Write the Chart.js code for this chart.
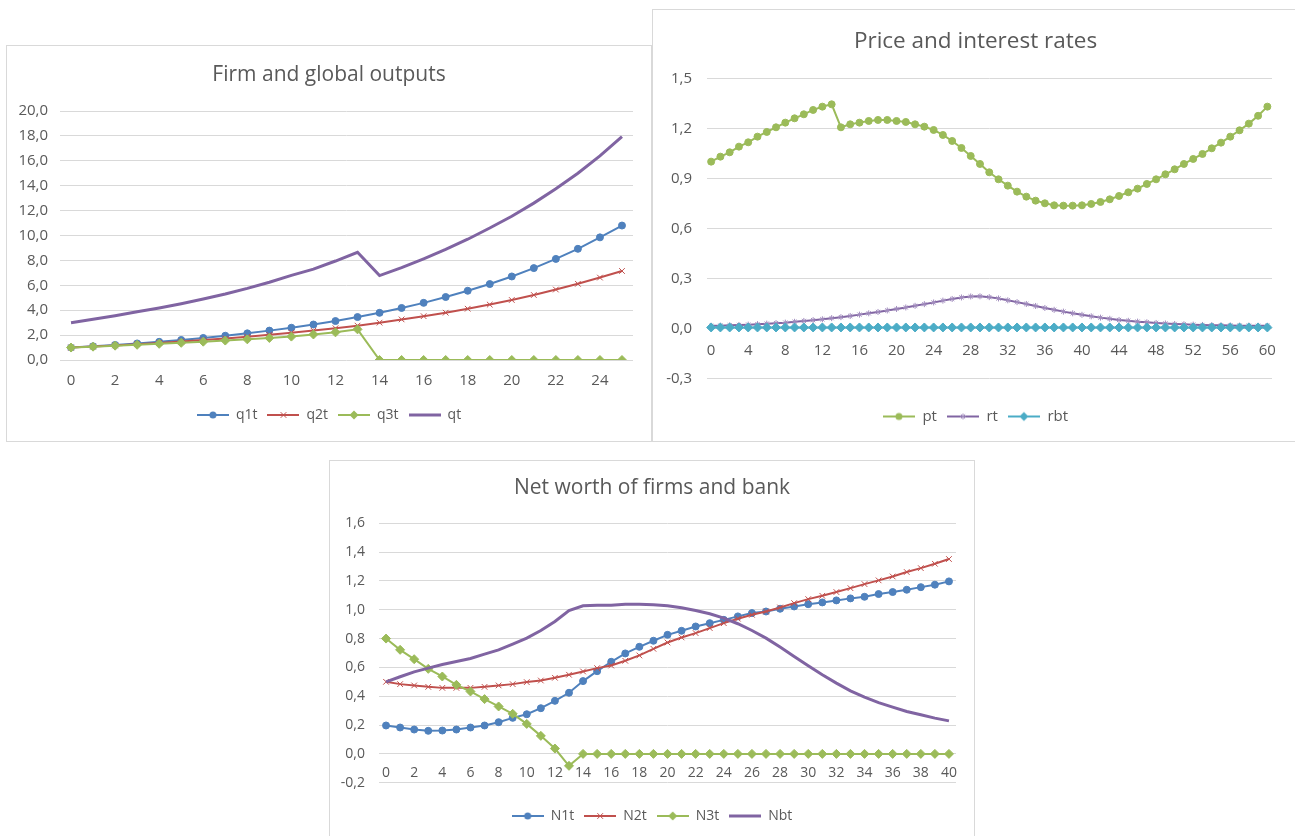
<!DOCTYPE html>
<html>
<head>
<meta charset="utf-8">
<title>Firm outputs, prices and net worth</title>
<script src="https://cdn.jsdelivr.net/npm/chart.js@4.4.1/dist/chart.umd.min.js"></script>
<style>
  html, body { margin: 0; padding: 0; background: #fff; width: 1295px; height: 836px; overflow: hidden; }
  .panel { position: absolute; border: 1px solid #D9D9D9; background: #fff; }
  .panel canvas { display: block; }
</style>
</head>
<body>
<div class="panel" style="left:6px; top:45px;"><canvas id="outputsChart" width="644" height="395"></canvas></div>
<div class="panel" style="left:652px; top:9px;"><canvas id="pricesChart" width="645" height="431"></canvas></div>
<div class="panel" style="left:329px; top:460px;"><canvas id="worthChart" width="644" height="380"></canvas></div>

<script>
// ---- Firm and global outputs ----
const outputPeriods = [0, 1, 2, 3, 4, 5, 6, 7, 8, 9, 10, 11, 12, 13, 14, 15, 16, 17, 18, 19, 20, 21, 22, 23, 24, 25];
const q1t = [1.00, 1.10, 1.21, 1.33, 1.46, 1.61, 1.77, 1.95, 2.14, 2.36, 2.59, 2.85, 3.13, 3.45, 3.79, 4.18, 4.59, 5.06, 5.56, 6.10, 6.71, 7.38, 8.12, 8.93, 9.85, 10.80];
const q2t = [1.00, 1.08, 1.17, 1.27, 1.37, 1.48, 1.60, 1.73, 1.87, 2.02, 2.19, 2.36, 2.55, 2.76, 3.00, 3.26, 3.52, 3.80, 4.12, 4.45, 4.82, 5.22, 5.66, 6.12, 6.62, 7.15];
const q3t = [1.00, 1.07, 1.15, 1.22, 1.30, 1.38, 1.47, 1.56, 1.66, 1.77, 1.88, 2.05, 2.22, 2.46, 0, 0, 0, 0, 0, 0, 0, 0, 0, 0, 0, 0];
const qt  = [3.00, 3.27, 3.56, 3.87, 4.18, 4.52, 4.90, 5.30, 5.75, 6.25, 6.80, 7.30, 7.95, 8.65, 6.78, 7.42, 8.13, 8.88, 9.70, 10.60, 11.55, 12.60, 13.75, 15.00, 16.40, 17.95];

// ---- Price and interest rates ----
const pricePeriods = [0, 1, 2, 3, 4, 5, 6, 7, 8, 9, 10, 11, 12, 13, 14, 15, 16, 17, 18, 19, 20,
  21, 22, 23, 24, 25, 26, 27, 28, 29, 30, 31, 32, 33, 34, 35, 36, 37, 38, 39, 40,
  41, 42, 43, 44, 45, 46, 47, 48, 49, 50, 51, 52, 53, 54, 55, 56, 57, 58, 59, 60];
const pt = [1.000, 1.030, 1.056, 1.090, 1.116, 1.150, 1.178, 1.206, 1.234, 1.260, 1.284,
  1.310, 1.330, 1.344, 1.206, 1.224, 1.234, 1.244, 1.250, 1.250, 1.244,
  1.238, 1.224, 1.210, 1.190, 1.160, 1.124, 1.082, 1.034, 0.986, 0.936,
  0.894, 0.856, 0.820, 0.790, 0.766, 0.750, 0.738, 0.736, 0.736, 0.738,
  0.746, 0.758, 0.774, 0.794, 0.816, 0.838, 0.866, 0.894, 0.924, 0.954,
  0.986, 1.016, 1.046, 1.080, 1.114, 1.150, 1.188, 1.228, 1.275, 1.330];
const rt = [0.015, 0.016, 0.018, 0.020, 0.022, 0.025, 0.028, 0.031, 0.034, 0.039, 0.044,
  0.049, 0.054, 0.061, 0.067, 0.074, 0.082, 0.090, 0.098, 0.107, 0.116,
  0.125, 0.135, 0.145, 0.155, 0.166, 0.176, 0.185, 0.191, 0.192, 0.187,
  0.179, 0.168, 0.157, 0.146, 0.134, 0.122, 0.111, 0.100, 0.090, 0.081,
  0.072, 0.064, 0.057, 0.050, 0.045, 0.040, 0.036, 0.032, 0.029, 0.026,
  0.024, 0.022, 0.020, 0.019, 0.018, 0.017, 0.016, 0.016, 0.015, 0.015];
const rbt = [0.005, 0.005, 0.005, 0.005, 0.005, 0.005, 0.005, 0.005, 0.005, 0.005, 0.005,
  0.005, 0.005, 0.005, 0.005, 0.005, 0.005, 0.005, 0.005, 0.005, 0.005,
  0.005, 0.005, 0.005, 0.005, 0.005, 0.005, 0.005, 0.005, 0.005, 0.005,
  0.005, 0.005, 0.005, 0.005, 0.005, 0.005, 0.005, 0.005, 0.005, 0.005,
  0.005, 0.005, 0.005, 0.005, 0.005, 0.005, 0.005, 0.005, 0.005, 0.005,
  0.005, 0.005, 0.005, 0.005, 0.005, 0.005, 0.005, 0.005, 0.005, 0.005];

// ---- Net worth of firms and bank ----
const worthPeriods = [0, 1, 2, 3, 4, 5, 6, 7, 8, 9, 10, 11, 12, 13, 14, 15, 16, 17, 18, 19, 20,
  21, 22, 23, 24, 25, 26, 27, 28, 29, 30, 31, 32, 33, 34, 35, 36, 37, 38, 39, 40];
const N1t = [0.197, 0.183, 0.169, 0.160, 0.162, 0.169, 0.183, 0.197, 0.220, 0.250, 0.275,
  0.317, 0.368, 0.424, 0.505, 0.574, 0.639, 0.697, 0.743, 0.785, 0.826,
  0.854, 0.884, 0.907, 0.930, 0.954, 0.977, 0.988, 1.007, 1.023, 1.039,
  1.051, 1.065, 1.079, 1.090, 1.109, 1.123, 1.139, 1.157, 1.174, 1.197];
const N2t = [0.500, 0.484, 0.475, 0.465, 0.458, 0.458, 0.458, 0.465, 0.475, 0.484, 0.498,
  0.509, 0.528, 0.549, 0.572, 0.595, 0.613, 0.646, 0.683, 0.729, 0.773,
  0.808, 0.838, 0.873, 0.907, 0.938, 0.965, 0.988, 1.016, 1.046, 1.074,
  1.097, 1.123, 1.150, 1.178, 1.204, 1.231, 1.262, 1.289, 1.319, 1.352];
const N3t = [0.800, 0.722, 0.657, 0.590, 0.537, 0.479, 0.433, 0.380, 0.329, 0.278, 0.208,
  0.125, 0.037, -0.083, 0, 0, 0, 0, 0, 0, 0,
  0, 0, 0, 0, 0, 0, 0, 0, 0, 0,
  0, 0, 0, 0, 0, 0, 0, 0, 0, 0];
const Nbt = [0.500, 0.535, 0.569, 0.595, 0.620, 0.641, 0.662, 0.692, 0.722, 0.762, 0.803,
  0.856, 0.919, 0.995, 1.028, 1.032, 1.032, 1.039, 1.039, 1.035, 1.028,
  1.014, 0.995, 0.972, 0.942, 0.903, 0.856, 0.803, 0.741, 0.676, 0.611,
  0.549, 0.491, 0.437, 0.394, 0.356, 0.324, 0.294, 0.271, 0.248, 0.229];

// ---- styling ----
const TEXT = '#595959';
const GRID = '#D9D9D9';
const BLUE = '#4F81BD', RED = '#C0504D', GREEN = '#9BBB59', PURPLE = '#8064A2', AQUA = '#4BACC6';

Chart.defaults.font.family = "'Open Sans', sans-serif";
Chart.defaults.color = TEXT;

// Marker shapes used for the legend swatches (line with the marker in its middle)
function drawMarker(g, style, x, y, r, color) {
  g.fillStyle = color;
  g.strokeStyle = color;
  g.lineWidth = 1;
  g.beginPath();
  if (style === 'circle') {
    g.arc(x, y, r, 0, Math.PI * 2);
    g.fill();
  } else if (style === 'rectRot') {
    g.moveTo(x - r, y); g.lineTo(x, y - r); g.lineTo(x + r, y); g.lineTo(x, y + r);
    g.closePath();
    g.fill();
  } else if (style === 'crossRot' || style === 'star') {
    const d = r * Math.SQRT1_2;
    g.moveTo(x - d, y - d); g.lineTo(x + d, y + d);
    g.moveTo(x + d, y - d); g.lineTo(x - d, y + d);
    if (style === 'star') {
      g.moveTo(x - r, y); g.lineTo(x + r, y);
      g.moveTo(x, y - r); g.lineTo(x, y + r);
    }
    g.stroke();
  }
}

function legendSwatch(color, style, radius, lineWidth, markerColor) {
  const c = document.createElement('canvas');
  c.width = 32;
  c.height = 12;
  const g = c.getContext('2d');
  g.strokeStyle = color;
  g.lineWidth = lineWidth;
  g.beginPath();
  g.moveTo(0, 6);
  g.lineTo(32, 6);
  g.stroke();
  if (style) drawMarker(g, style, 16, 6, radius, markerColor || color);
  return c;
}

function series(label, data, color, style, radius, width, markerColor) {
  const mc = markerColor || color;
  return {
    label: label,
    data: data,
    borderColor: color,
    backgroundColor: color,
    borderWidth: width,
    pointStyle: style || false,
    pointRadius: style ? radius : 0,
    pointHoverRadius: style ? radius : 0,
    pointBackgroundColor: mc,
    pointBorderColor: mc,
    pointBorderWidth: 1,
    tension: 0,
    swatch: legendSwatch(color, style, radius, width, mc)
  };
}

function decimalComma(v) {
  const x = Math.abs(v) < 1e-9 ? 0 : v;
  return x.toFixed(1).replace('.', ',');
}

// Empty scale that only reserves room (right margin, gap above the legend)
function spacer(type, position, size) {
  return {
    type: type,
    position: position,
    display: true,
    grid: { display: false, drawTicks: false },
    border: { display: false },
    ticks: { display: false },
    afterFit: (scale) => {
      if (position === 'right') scale.width = size; else scale.height = size;
    }
  };
}

function makeChart(id, spec) {
  spec.datasets.forEach((ds, i) => { ds.order = spec.datasets.length - i; });
  const scales = {
    x: {
      type: 'category',
      position: spec.xAtZero ? { y: 0 } : 'bottom',
      offset: true,
      grid: { display: false, drawTicks: false },
      border: { display: false },
      ticks: {
        autoSkip: false,
        maxRotation: 0,
        minRotation: 0,
        padding: spec.xPad,
        color: TEXT,
        font: { size: spec.tickSize },
        callback: function (v, i) { return i % spec.labelEvery === 0 ? this.getLabelForValue(v) : ''; }
      },
      afterFit: (scale) => { if (!spec.xAtZero) scale.height = spec.xHeight; }
    },
    y: {
      type: 'linear',
      position: 'left',
      min: spec.yMin,
      max: spec.yMax,
      ticks: {
        stepSize: spec.yStep,
        padding: spec.yPad,
        color: TEXT,
        font: { size: spec.tickSize },
        callback: decimalComma
      },
      grid: { color: GRID, lineWidth: 1, drawTicks: false },
      border: { display: false },
      afterFit: (scale) => { scale.width = spec.yWidth; }
    },
    rightMargin: spacer('linear', 'right', spec.rightGap)
  };
  if (spec.xAtZero) scales.legendGap = spacer('category', 'bottom', spec.xHeight);

  return new Chart(document.getElementById(id), {
    type: 'line',
    data: { labels: spec.labels, datasets: spec.datasets },
    options: {
      responsive: false,
      animation: false,
      devicePixelRatio: 1,
      layout: { padding: spec.padding },
      plugins: {
        title: {
          display: true,
          text: spec.title,
          color: TEXT,
          font: { size: spec.titleSize, weight: 'normal' },
          padding: spec.titlePadding
        },
        legend: {
          display: true,
          position: 'bottom',
          labels: {
            usePointStyle: true,
            pointStyleWidth: 32,
            padding: 10,
            color: TEXT,
            font: { size: spec.legendSize },
            generateLabels: (chart) => chart.data.datasets.map((ds, i) => ({
              text: ds.label,
              pointStyle: ds.swatch,
              fillStyle: ds.borderColor,
              strokeStyle: ds.borderColor,
              lineWidth: 0,
              hidden: false,
              datasetIndex: i,
              fontColor: TEXT
            }))
          }
        },
        tooltip: { enabled: false }
      },
      scales: scales
    }
  });
}

makeChart('outputsChart', {
  title: 'Firm and global outputs',
  labels: outputPeriods,
  datasets: [
    series('q1t', q1t, BLUE, 'circle', 3.5, 2),
    series('q2t', q2t, RED, 'crossRot', 4, 2),
    series('q3t', q3t, GREEN, 'rectRot', 4.5, 2),
    series('qt', qt, PURPLE, null, 0, 3)
  ],
  yMin: 0, yMax: 20, yStep: 2,
  labelEvery: 2,
  xAtZero: false,
  titleSize: 21, tickSize: 15, legendSize: 14,
  padding: { left: 0, right: 0, top: 0, bottom: 9 },
  rightGap: 18,
  titlePadding: { top: 16, bottom: 23.8 },
  yWidth: 53, yPad: 12,
  xHeight: 38, xPad: 12
});

makeChart('pricesChart', {
  title: 'Price and interest rates',
  labels: pricePeriods,
  datasets: [
    series('pt', pt, GREEN, 'circle', 3.5, 2),
    series('rt', rt, PURPLE, 'star', 3, 2, '#A28DBE'),
    series('rbt', rbt, AQUA, 'rectRot', 4.5, 2)
  ],
  yMin: -0.3, yMax: 1.5, yStep: 0.3,
  labelEvery: 4,
  xAtZero: true,
  titleSize: 22.5, tickSize: 15, legendSize: 15,
  padding: { left: 0, right: 0, top: 0, bottom: 7 },
  rightGap: 26,
  titlePadding: { top: 18.5, bottom: 22.8 },
  yWidth: 53.5, yPad: 14.5,
  xHeight: 20.7, xPad: 13.7
});

makeChart('worthChart', {
  title: 'Net worth of firms and bank',
  labels: worthPeriods,
  datasets: [
    series('N1t', N1t, BLUE, 'circle', 3.5, 2),
    series('N2t', N2t, RED, 'crossRot', 4, 2),
    series('N3t', N3t, GREEN, 'rectRot', 4.5, 2),
    series('Nbt', Nbt, PURPLE, null, 0, 3)
  ],
  yMin: -0.2, yMax: 1.6, yStep: 0.2,
  labelEvery: 2,
  xAtZero: true,
  titleSize: 21, tickSize: 14, legendSize: 14,
  padding: { left: 0, right: 0, top: 0, bottom: 8 },
  rightGap: 18,
  titlePadding: { top: 14.4, bottom: 22.7 },
  yWidth: 49, yPad: 14,
  xHeight: 16.3, xPad: 10.6
});
</script>
</body>
</html>
